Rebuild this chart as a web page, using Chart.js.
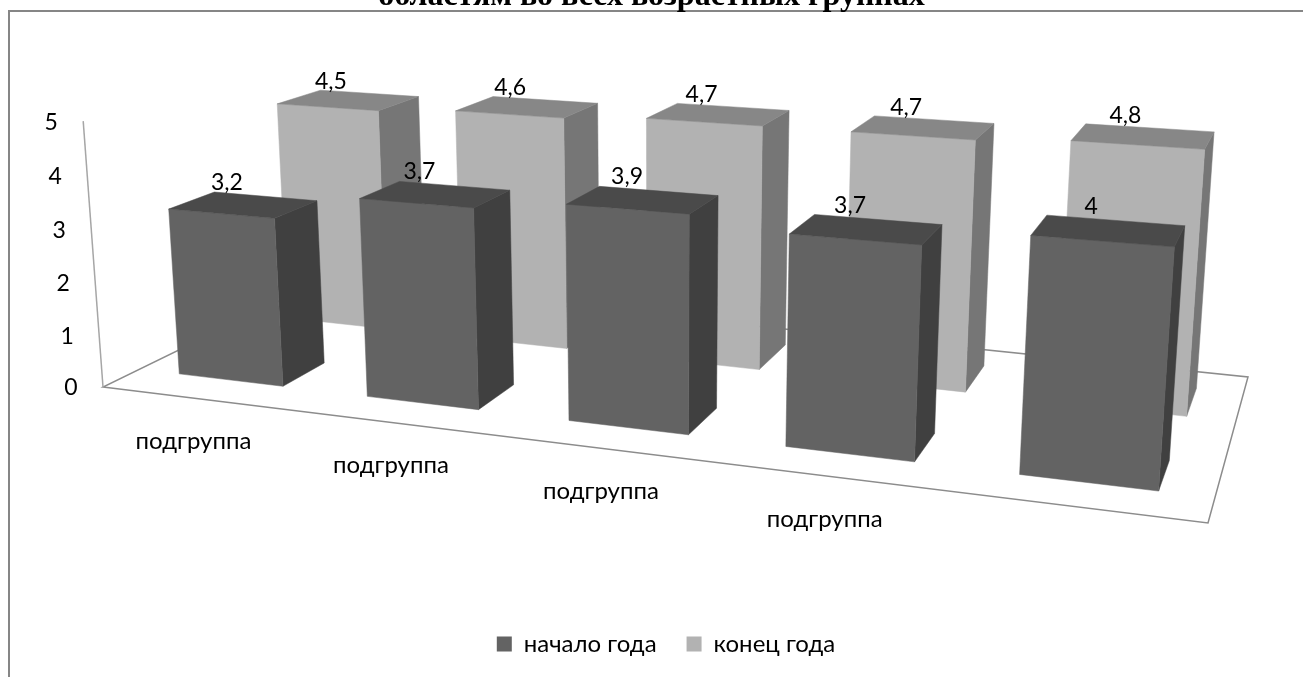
<!DOCTYPE html>
<html lang="ru">

<head>
    <meta charset="UTF-8">
    <title>областям во всех возрастных группах</title>
    <script src="https://cdn.jsdelivr.net/npm/chart.js"></script>
    <style>
        body {
            margin: 0;
            background: white;
        }

        canvas {
            display: block;
        }
    </style>
</head>

<body>
    <canvas id="podgruppy" width="1303" height="677"></canvas>

    <script>
        const titleText = 'областям во всех возрастных группах';
        const categories = ['подгруппа', 'подгруппа', 'подгруппа', 'подгруппа', ''];
        const nachaloGoda = [3.2, 3.7, 3.9, 3.7, 4];
        const konecGoda = [4.5, 4.6, 4.7, 4.7, 4.8];
        const seriesNames = ['начало года', 'конец года'];
        const yMax = 5;

        const fontFamily = 'Lato, "Noto Sans", sans-serif';

        // faces of the boxes, one entry per dataset
        const faces = [
            { front: '#636363', side: '#404040', top: '#4a4a4a', depth: [0.145, 0.337], labelLift: 14 },
            { front: '#b2b2b2', side: '#767676', top: '#878787', depth: [0.648, 0.866], labelLift: 12 }
        ];

        // floor of the 3d box on the page: front-left, front-right, back-right, back-left
        const floor = [[103, 387], [1208, 523], [1248, 377], [320, 281]];

        function floorMatrix(q) {
            const dx1 = q[1][0] - q[2][0], dx2 = q[3][0] - q[2][0];
            const dy1 = q[1][1] - q[2][1], dy2 = q[3][1] - q[2][1];
            const sx = q[0][0] - q[1][0] + q[2][0] - q[3][0];
            const sy = q[0][1] - q[1][1] + q[2][1] - q[3][1];
            const den = dx1 * dy2 - dx2 * dy1;
            const g = (sx * dy2 - dx2 * sy) / den;
            const h = (dx1 * sy - sx * dy1) / den;
            return {
                a: q[1][0] - q[0][0] + g * q[1][0],
                b: q[3][0] - q[0][0] + h * q[3][0],
                c: q[0][0],
                d: q[1][1] - q[0][1] + g * q[1][1],
                e: q[3][1] - q[0][1] + h * q[3][1],
                f: q[0][1],
                g: g,
                h: h
            };
        }
        const m = floorMatrix(floor);

        // u along the category axis, v into the depth, val along the value axis (all floor units)
        function project(u, v, val) {
            const w = 1 + m.g * u + m.h * v - 0.00685 * val;
            return [
                (m.a * u + m.b * v + m.c - 4.53 * val) / w,
                (m.d * u + m.e * v + m.f - 54 * (1 + 0.04 * u) * val) / w
            ];
        }

        // the bars sit a little left of the even spacing in the middle of the row
        const barU = u => u - 0.032 * u * (1 - u);

        function face(ctx, color, pts) {
            ctx.fillStyle = color;
            ctx.strokeStyle = color;
            ctx.lineWidth = 0.5;
            ctx.beginPath();
            pts.forEach((p, i) => i ? ctx.lineTo(p[0], p[1]) : ctx.moveTo(p[0], p[1]));
            ctx.closePath();
            ctx.fill();
            ctx.stroke();
        }

        const perspectiveBars = {
            id: 'perspectiveBars',
            afterLayout(chart) {
                // legend is off centre in the original, the title is not
                chart.legend.left += 14.5;
                chart.legend.right += 14.5;
            },
            beforeDraw(chart) {
                const ctx = chart.ctx;
                ctx.save();
                ctx.strokeStyle = '#868686';
                ctx.lineWidth = 2;
                ctx.strokeRect(9, 11, 1320, 700);
                ctx.restore();
            },
            beforeDatasetsDraw(chart) {
                const ctx = chart.ctx;
                const area = chart.chartArea;
                const xScale = chart.scales.x;
                const yScale = chart.scales.y;
                const toU = px => (px - area.left) / area.width;

                ctx.save();

                // floor and value axis
                ctx.strokeStyle = '#8c8c8c';
                ctx.lineWidth = 1.5;
                ctx.beginPath();
                floor.forEach((p, i) => i ? ctx.lineTo(p[0], p[1]) : ctx.moveTo(p[0], p[1]));
                ctx.closePath();
                ctx.stroke();
                const axisTop = project(0, 0, yScale.max);
                ctx.strokeStyle = '#a6a6a6';
                ctx.beginPath();
                ctx.moveTo(floor[0][0], floor[0][1]);
                ctx.lineTo(axisTop[0], axisTop[1]);
                ctx.stroke();

                // back row first so the front row covers it
                for (let d = chart.data.datasets.length - 1; d >= 0; d--) {
                    const meta = chart.getDatasetMeta(d);
                    const style = faces[d];
                    const v0 = style.depth[0], v1 = style.depth[1];
                    meta.data.forEach(el => {
                        const u0 = barU(toU(el.x - el.width / 2));
                        const u1 = barU(toU(el.x + el.width / 2));
                        const val = yScale.getValueForPixel(el.y);
                        face(ctx, style.side, [project(u1, v0, 0), project(u1, v1, 0), project(u1, v1, val), project(u1, v0, val)]);
                        face(ctx, style.front, [project(u0, v0, 0), project(u1, v0, 0), project(u1, v0, val), project(u0, v0, val)]);
                        face(ctx, style.top, [project(u0, v0, val), project(u1, v0, val), project(u1, v1, val), project(u0, v1, val)]);
                    });
                }

                ctx.fillStyle = '#000';
                ctx.textAlign = 'center';
                ctx.textBaseline = 'middle';
                ctx.font = '23px ' + fontFamily;

                // value labels
                chart.data.datasets.forEach((ds, d) => {
                    chart.getDatasetMeta(d).data.forEach((el, i) => {
                        const u = barU(toU(el.x));
                        const p = project(u, faces[d].depth[1], yScale.getValueForPixel(el.y));
                        ctx.fillText(String(ds.data[i]).replace('.', ','), p[0] - 40 + 18 * u, p[1] - faces[d].labelLift);
                    });
                });

                // value ticks follow the slanted axis
                yScale.ticks.forEach(t => {
                    const p = project(0, 0, t.value);
                    ctx.fillText(t.label, p[0] - 32, p[1] + 1);
                });

                // category labels follow the front edge
                ctx.font = '24px ' + fontFamily;
                xScale.ticks.forEach((t, i) => {
                    const u = toU(xScale.getPixelForTick(i));
                    const p = project(u, 0, 0);
                    ctx.fillText(t.label, p[0] - 4 - 15 * u, p[1] + 42);
                });

                ctx.restore();
                return false; // the flat bars are not drawn, only the boxes above
            }
        };

        new Chart(document.getElementById('podgruppy'), {
            type: 'bar',
            data: {
                labels: categories,
                datasets: [
                    { label: seriesNames[0], data: nachaloGoda, backgroundColor: faces[0].front, grouped: false, barPercentage: 0.56 },
                    { label: seriesNames[1], data: konecGoda, backgroundColor: faces[1].front, grouped: false, barPercentage: 0.575 }
                ]
            },
            options: {
                responsive: false,
                animation: false,
                categoryPercentage: 1,
                layout: { padding: { bottom: 11 } },
                scales: {
                    x: { display: false, ticks: { autoSkip: false } },
                    y: { display: false, min: 0, max: yMax, ticks: { stepSize: 1 } }
                },
                plugins: {
                    tooltip: { enabled: false },
                    title: {
                        display: true,
                        text: titleText,
                        color: '#000',
                        font: { family: '"Liberation Serif", serif', size: 32, weight: 'bold' },
                        padding: { top: -22.5, bottom: 0 }
                    },
                    legend: {
                        position: 'bottom',
                        labels: {
                            boxWidth: 15,
                            boxHeight: 15,
                            padding: 30,
                            color: '#000',
                            font: { family: fontFamily, size: 24 }
                        }
                    }
                }
            },
            plugins: [perspectiveBars]
        });
    </script>

</body>

</html>
